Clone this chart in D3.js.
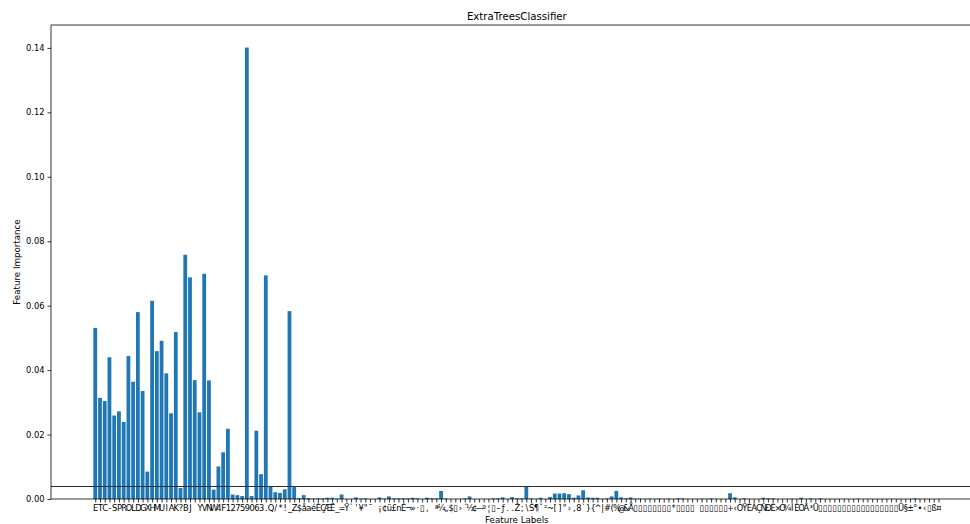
<!DOCTYPE html>
<html>
<head>
<meta charset="utf-8">
<script src="https://cdn.jsdelivr.net/npm/d3@7"></script>
<style>
  html, body { margin: 0; padding: 0; background: #fff; }
  svg { display: block; font-family: "DejaVu Sans", sans-serif; }
</style>
</head>
<body>
<svg id="chart" width="970" height="524"></svg>
<script>
// Feature names (one character each); "▯" stands for glyphs the font lacks
const featureLabels = [].concat(
  Array.from("ETC-SPROLDGXHMUIAK?BJ YVNW4F12759063.Q/*!_"),
  Array.from("Z$åaéÈÇÆË_=Ÿ`'¥\"¯ ¡¢ü£nÉ¬»·▯, ª¼„$▯›´½¢—º¦▯–ƒ..Ž;\\"),
  Array.from("Š¶ˇ²~[]\"›,8`}{^|#(%@&Å"),
  Array.from("▯▯▯▯▯▯▯▯*▯▯▯▯ ▯▯▯▯▯▯+‹"),
  Array.from("ÒŸÈÀÇÑĐÈ×Ó¾ÌÈÒÂ³Ü"),
  Array.from("▯▯▯▯▯▯▯▯▯▯▯▯▯▯▯▯▯"),
  Array.from("Ü§±°•‹▯ß¤")
);

// Importance of each feature, same order as featureLabels
const importances = [
  0.0531, 0.0314, 0.0304, 0.0440, 0.0259, 0.0272, 0.0239, 0.0444, 0.0364, 0.0580,
  0.0335, 0.0085, 0.0615, 0.0459, 0.0491, 0.0390, 0.0266, 0.0518, 0.0034, 0.0758,
  0.0688, 0.0369, 0.0269, 0.0699, 0.0368, 0.0029, 0.0101, 0.0145, 0.0218, 0.0014,
  0.0012, 0.0009, 0.1401, 0.0009, 0.0212, 0.0077, 0.0694, 0.0038, 0.0021, 0.0019,
  0.0030, 0.0583, 0.0037, 0.0003, 0.0012, 0.0003, 0.0001, 0.0002, 0.0002, 0.0004,
  0.0004, 0.0001, 0.0014, 0.0000, 0.0000, 0.0005, 0.0001, 0.0002, 0.0000, 0.0000,
  0.0005, 0.0001, 0.0008, 0.0002, 0.0002, 0.0002, 0.0002, 0.0004, 0.0002, 0.0000,
  0.0004, 0.0002, 0.0002, 0.0025, 0.0002, 0.0000, 0.0000, 0.0000, 0.0002, 0.0008,
  0.0000, 0.0000, 0.0000, 0.0000, 0.0002, 0.0002, 0.0005, 0.0000, 0.0006, 0.0002,
  0.0002, 0.0038, 0.0002, 0.0000, 0.0004, 0.0000, 0.0006, 0.0017, 0.0017, 0.0018,
  0.0015, 0.0004, 0.0011, 0.0027, 0.0005, 0.0004, 0.0004, 0.0000, 0.0002, 0.0008,
  0.0025, 0.0005, 0.0002, 0.0005, 0.0001, 0.0001, 0.0000, 0.0001, 0.0000, 0.0001,
  0.0000, 0.0001, 0.0000, 0.0002, 0.0002, 0.0000, 0.0000, 0.0000, 0.0001, 0.0000,
  0.0002, 0.0000, 0.0000, 0.0000, 0.0018, 0.0005, 0.0000, 0.0002, 0.0000, 0.0000,
  0.0000, 0.0004, 0.0002, 0.0002, 0.0000, 0.0000, 0.0000, 0.0001, 0.0000, 0.0004,
  0.0000, 0.0002, 0.0000, 0.0002, 0.0000, 0.0000, 0.0000, 0.0000, 0.0000, 0.0000,
  0.0000, 0.0001, 0.0000, 0.0000, 0.0000, 0.0000, 0.0000, 0.0000, 0.0000, 0.0000,
  0.0000, 0.0000, 0.0000, 0.0002, 0.0000, 0.0000, 0.0000, 0.0000, 0.0000
];

const yTickValues = [0, 0.02, 0.04, 0.06, 0.08, 0.10, 0.12, 0.14];
const threshold = 0.0039;

const titleText = "ExtraTreesClassifier";
const xLabelText = "Feature Labels";
const yLabelText = "Feature Importance";

// ---- layout ----
const svg = d3.select("#chart");
const plot = { left: 51, right: 982.7, top: 25, bottom: 499 };
const barColor = "#1f77b4";
const n = importances.length;
const barWidth = 0.8;
const xPad = 0.05 * (n - 1 + barWidth);

const x = d3.scaleLinear()
  .domain([-barWidth / 2 - xPad, n - 1 + barWidth / 2 + xPad])
  .range([plot.left, plot.right]);

const y = d3.scaleLinear()
  .domain([0, d3.max(importances) * 1.05])
  .range([plot.bottom, plot.top]);

// bars
svg.append("g")
  .selectAll("rect")
  .data(importances)
  .join("rect")
  .attr("x", (d, i) => x(i - barWidth / 2))
  .attr("width", (d, i) => x(i + barWidth / 2) - x(i - barWidth / 2))
  .attr("y", d => y(d))
  .attr("height", d => y(0) - y(d))
  .attr("fill", barColor);

// threshold line
svg.append("line")
  .attr("x1", plot.left).attr("x2", plot.right)
  .attr("y1", y(threshold)).attr("y2", y(threshold))
  .attr("stroke", "#2b2b2b")
  .attr("stroke-width", 1.1);

// y axis
const yAxis = svg.append("g")
  .attr("transform", `translate(${plot.left},0)`)
  .call(d3.axisLeft(y).tickValues(yTickValues).tickFormat(d3.format(".2f"))
    .tickSize(3.5).tickPadding(3));
yAxis.select(".domain").remove();
yAxis.selectAll(".tick line").attr("stroke", "#000").attr("stroke-width", 0.8);
yAxis.selectAll(".tick text")
  .attr("font-family", "DejaVu Sans").attr("font-size", "8.3px").attr("fill", "#000");

// x axis
const xAxis = svg.append("g")
  .attr("transform", `translate(0,${plot.bottom})`)
  .call(d3.axisBottom(x).tickValues(d3.range(n)).tickFormat(i => featureLabels[i])
    .tickSize(3.5).tickPadding(2.5));
xAxis.select(".domain").remove();
xAxis.selectAll(".tick line").attr("stroke", "#000").attr("stroke-width", 0.8);
xAxis.selectAll(".tick text")
  .attr("font-family", "DejaVu Sans").attr("font-size", "8.3px").attr("fill", "#000");

// spines: left, bottom, top (right edge lies beyond the canvas)
const spines = svg.append("g").attr("stroke", "#000").attr("stroke-width", 0.8).attr("fill", "none");
spines.append("line").attr("x1", plot.left).attr("x2", plot.left).attr("y1", plot.top).attr("y2", plot.bottom);
spines.append("line").attr("x1", plot.left).attr("x2", plot.right).attr("y1", plot.bottom).attr("y2", plot.bottom);
spines.append("line").attr("x1", plot.left).attr("x2", plot.right).attr("y1", plot.top).attr("y2", plot.top);
spines.append("line").attr("x1", plot.right).attr("x2", plot.right).attr("y1", plot.top).attr("y2", plot.bottom);

// title and axis labels
svg.append("text")
  .attr("x", (plot.left + plot.right) / 2).attr("y", 19.5)
  .attr("text-anchor", "middle")
  .attr("font-size", "10.2px").attr("fill", "#000")
  .text(titleText);

svg.append("text")
  .attr("x", (plot.left + plot.right) / 2).attr("y", 522.8)
  .attr("text-anchor", "middle")
  .attr("font-size", "8.7px").attr("fill", "#000")
  .text(xLabelText);

svg.append("text")
  .attr("transform", `translate(20,${(plot.top + plot.bottom) / 2}) rotate(-90)`)
  .attr("text-anchor", "middle")
  .attr("font-size", "8.7px").attr("fill", "#000")
  .text(yLabelText);
</script>
</body>
</html>
